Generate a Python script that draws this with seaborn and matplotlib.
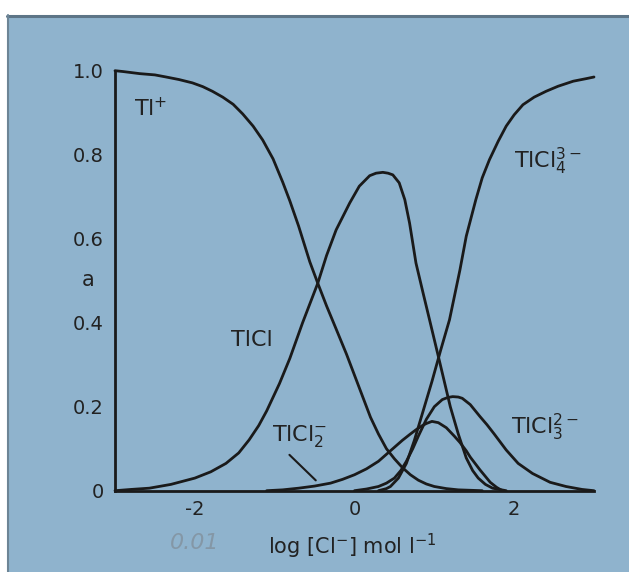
import matplotlib

matplotlib.use('Agg')

import matplotlib.pyplot as plt
import pandas as pd
import seaborn as sns
from matplotlib.lines import Line2D
from matplotlib.patches import Rectangle

# values (fraction a vs log[Cl-])
TL_X = [-3.0, -2.9, -2.69, -2.5, -2.36, -2.2, -2.03, -1.9, -1.78, -1.65, -1.52, -1.4,
        -1.27, -1.15, -1.02, -0.9, -0.81, -0.7, -0.56, -0.46, -0.35, -0.23, -0.1, 0.0,
        0.1, 0.2, 0.3, 0.4, 0.5, 0.6, 0.7, 0.8, 0.9, 1.0, 1.15, 1.3, 1.6]
TL_A = [1.0, 0.998, 0.993, 0.99, 0.985, 0.979, 0.971, 0.962, 0.951, 0.937, 0.92, 0.897,
        0.868, 0.835, 0.79, 0.735, 0.69, 0.63, 0.545, 0.494, 0.44, 0.385, 0.325, 0.275,
        0.225, 0.175, 0.135, 0.10, 0.076, 0.055, 0.038, 0.025, 0.016, 0.01, 0.005, 0.002, 0.0]

TLCL_X = [-3.0, -2.8, -2.57, -2.3, -2.0, -1.8, -1.61, -1.45, -1.32, -1.2, -1.1, -0.94,
          -0.81, -0.65, -0.46, -0.35, -0.23, -0.06, 0.06, 0.19, 0.27, 0.355, 0.42, 0.48,
          0.56, 0.63, 0.69, 0.77, 0.86, 0.94, 1.07, 1.2, 1.3, 1.4, 1.48, 1.55, 1.64, 1.73, 1.9]
TLCL_A = [0.0, 0.003, 0.006, 0.015, 0.03, 0.045, 0.065, 0.09, 0.121, 0.155, 0.19, 0.255,
          0.315, 0.40, 0.494, 0.56, 0.621, 0.685, 0.725, 0.75, 0.756, 0.758, 0.756, 0.752,
          0.733, 0.693, 0.637, 0.542, 0.47, 0.407, 0.304, 0.2, 0.135, 0.078, 0.048, 0.03,
          0.015, 0.006, 0.0]

TLCL2_X = [-1.1, -0.9, -0.7, -0.5, -0.3, -0.15, 0.0, 0.15, 0.3, 0.45, 0.6, 0.7, 0.77,
           0.85, 0.9, 0.97, 1.05, 1.15, 1.25, 1.32, 1.4, 1.45, 1.57, 1.7, 1.78, 1.85]
TLCL2_A = [0.0, 0.002, 0.006, 0.011, 0.018, 0.027, 0.038, 0.052, 0.07, 0.095, 0.12, 0.135,
           0.145, 0.155, 0.16, 0.165, 0.162, 0.15, 0.13, 0.115, 0.095, 0.08, 0.05, 0.02,
           0.008, 0.0]

TLCL3_X = [0.0, 0.15, 0.3, 0.4, 0.5, 0.58, 0.65, 0.73, 0.8, 0.9, 1.0, 1.1, 1.17, 1.23,
           1.3, 1.35, 1.45, 1.57, 1.66, 1.75, 1.9, 2.05, 2.23, 2.45, 2.65, 2.85, 3.0]
TLCL3_A = [0.0, 0.004, 0.01, 0.018, 0.03, 0.048, 0.07, 0.1, 0.13, 0.17, 0.2, 0.217, 0.222,
           0.224, 0.223, 0.22, 0.205, 0.177, 0.157, 0.135, 0.097, 0.065, 0.041, 0.02, 0.01,
           0.003, 0.0]

TLCL4_X = [0.3, 0.4, 0.45, 0.55, 0.65, 0.75, 0.86, 0.97, 1.08, 1.19, 1.32, 1.4, 1.52,
           1.6, 1.69, 1.8, 1.9, 2.0, 2.11, 2.25, 2.4, 2.55, 2.74, 2.9, 3.0]
TLCL4_A = [0.0, 0.005, 0.01, 0.03, 0.065, 0.12, 0.19, 0.26, 0.335, 0.407, 0.525, 0.606,
           0.693, 0.745, 0.788, 0.832, 0.868, 0.895, 0.919, 0.937, 0.951, 0.963, 0.975,
           0.981, 0.985]

SPECIES = ['Tl+', 'TlCl', 'TlCl2-', 'TlCl3 2-', 'TlCl4 3-']
X_TICKS = [-2, 0, 2]
X_TICK_LABELS = ['-2', '0', '2']
Y_TICKS = [0, 0.2, 0.4, 0.6, 0.8, 1.0]
Y_TICK_LABELS = ['0', '0.2', '0.4', '0.6', '0.8', '1.0']

BG = '#8fb3cd'
INK = '#1a1a1a'
TXT = '#222222'

frames = []
for name, xs, ys in zip(SPECIES,
                        [TL_X, TLCL_X, TLCL2_X, TLCL3_X, TLCL4_X],
                        [TL_A, TLCL_A, TLCL2_A, TLCL3_A, TLCL4_A]):
    frames.append(pd.DataFrame({'logcl': xs, 'a': ys, 'species': name}))
df = pd.concat(frames, ignore_index=True)

sns.set_style('white')
plt.rcParams['font.family'] = ['DejaVu Sans']

W, H = 629, 572
fig = plt.figure(figsize=(W / 100, H / 100), dpi=100)
fig.patch.set_facecolor('white')
fig.patches.append(Rectangle((7 / W, 0), 1 - 7 / W, 1 - 15 / H, transform=fig.transFigure,
                             facecolor=BG, edgecolor='none', zorder=-10))
fig.lines.append(Line2D([7 / W, 1], [1 - 15.5 / H, 1 - 15.5 / H], transform=fig.transFigure,
                        color='#5d7587', lw=2.2, zorder=-5))
fig.lines.append(Line2D([7.5 / W, 7.5 / W], [0, 1 - 15 / H], transform=fig.transFigure,
                        color='#6d8596', lw=1.5, zorder=-5))

ax = fig.add_axes([115 / W, 81.3 / H, 479 / W, 420 / H])
ax.patch.set_alpha(0)

sns.lineplot(data=df, x='logcl', y='a', hue='species', units='species', estimator=None,
             palette={s: INK for s in SPECIES}, legend=False, lw=2.0, ax=ax, sort=True)
for ln in ax.lines:
    ln.set_clip_on(False)
    ln.set_solid_capstyle('round')
    ln.set_solid_joinstyle('round')

ax.set_xlim(-3, 3)
ax.set_ylim(0, 1.0)
sns.despine(ax=ax)
for side in ['left', 'bottom']:
    ax.spines[side].set_linewidth(2.0)
    ax.spines[side].set_color(INK)

ax.set_xticks(X_TICKS)
ax.set_xticklabels(X_TICK_LABELS)
ax.set_yticks(Y_TICKS)
ax.set_yticklabels(Y_TICK_LABELS)
ax.tick_params(axis='both', direction='in', length=16, width=1.6, color=INK,
               labelsize=14, labelcolor=TXT)
ax.tick_params(axis='y', pad=8)
ax.tick_params(axis='x', pad=7)

ax.set_xlabel('log [Cl$^{-}$] mol l$^{-1}$', fontsize=15, color=TXT)
ax.xaxis.set_label_coords((352 - 115) / 479, (490.7 - 532) / 420)
ax.set_ylabel('a', fontsize=15, rotation=0, color=TXT, va='center', ha='center')
ax.yaxis.set_label_coords((88 - 115) / 479, (490.7 - 280) / 420)

# handwritten note at the lower left
ax.text(-2.0, -0.125, '0.01', fontsize=16, color='#8497a6', style='italic',
        ha='center', va='center', clip_on=False)

lab = dict(fontsize=16, color=TXT, ha='center', va='center')
ax.text(-2.55, 0.91, 'Tl$^{+}$', **lab)
ax.text(-1.28, 0.36, 'TlCl', **lab)
ax.text(-0.69, 0.13, 'TlCl$_2^{-}$', **lab)
ax.text(2.42, 0.785, 'TlCl$_4^{3-}$', **lab)
ax.text(2.38, 0.15, 'TlCl$_3^{2-}$', **lab)
ax.annotate('', xy=(-0.46, 0.02), xytext=(-0.84, 0.09),
            arrowprops=dict(arrowstyle='-', color=INK, lw=1.5))

fig.savefig('out.png', dpi=100, facecolor=fig.get_facecolor())
